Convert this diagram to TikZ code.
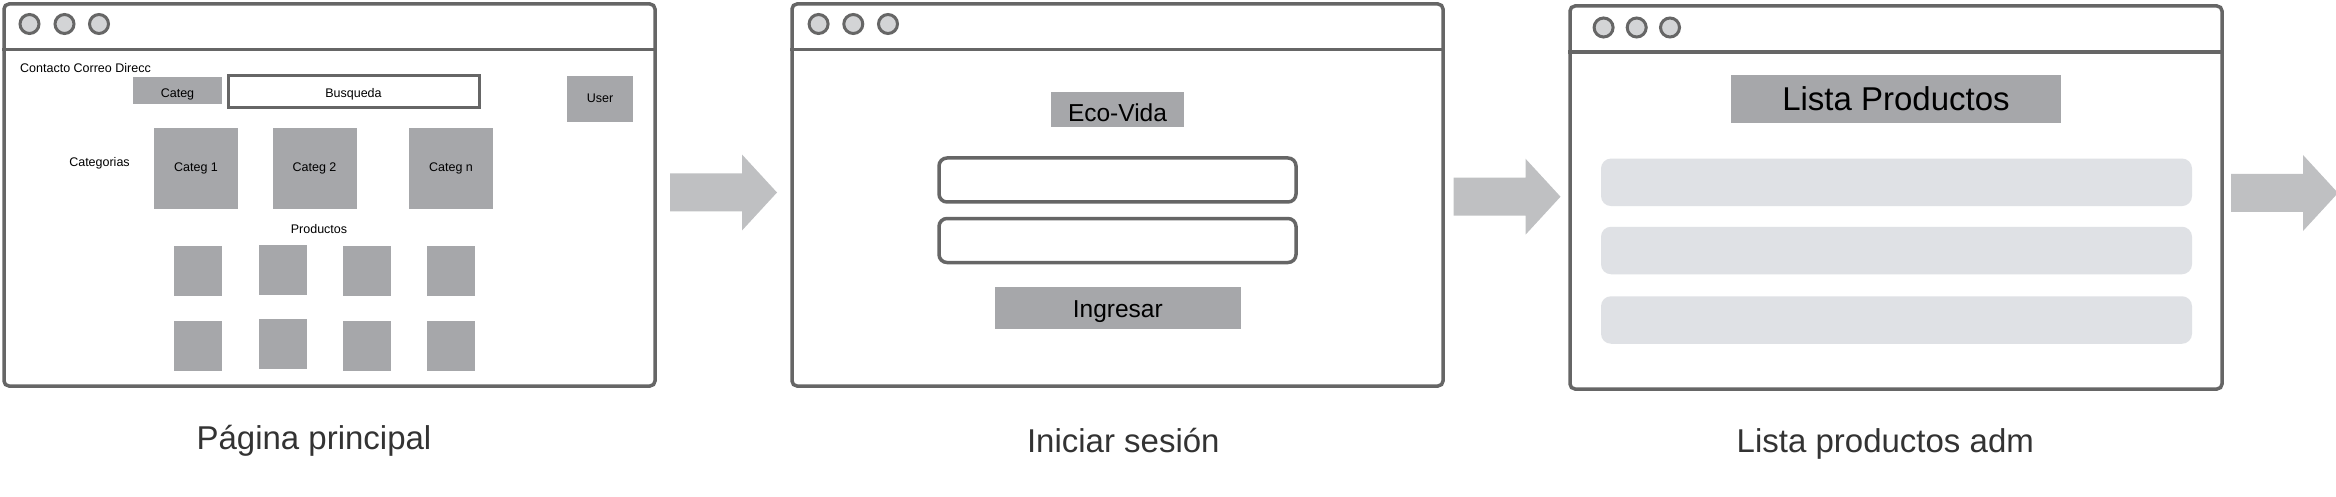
\documentclass[tikz,border=0pt]{standalone}
\usepackage{fontspec}
\setmainfont{Liberation Sans}
\definecolor{wgray}{HTML}{666666}
\definecolor{dotgray}{HTML}{D3D4D6}
\definecolor{boxgray}{HTML}{A6A7AA}
\definecolor{rowgray}{HTML}{DFE1E5}
\definecolor{arrgray}{HTML}{BFC0C2}
\definecolor{capgray}{HTML}{333333}
\newcommand{\fs}[1]{\fontsize{#1}{#1}\selectfont}
\tikzset{
  win/.style={draw=wgray, line width=3.5pt, rounded corners=5pt, inner sep=0pt, fill=white},
  sepline/.style={draw=wgray, line width=3.5pt},
  wdot/.style={circle, draw=wgray, line width=3pt, fill=dotgray, minimum size=19pt, inner sep=0pt},
  gbox/.style={fill=boxgray, inner sep=0pt, font=\fs{12.5}, text depth=2.5pt},
  bigbox/.style={fill=boxgray, inner sep=0pt, font=\fs{24.5}, text depth=5pt},
  small/.style={inner sep=0pt, font=\fs{12.5}},
  inbox/.style={draw=wgray, line width=3.5pt, rounded corners=8pt, inner sep=0pt},
  listrow/.style={fill=rowgray, rounded corners=10pt, inner sep=0pt, minimum width=591pt, minimum height=47.5pt},
  prod/.style={fill=boxgray, inner sep=0pt, minimum width=48pt, minimum height=50pt},
  caption/.style={inner sep=0pt, text=capgray, font=\fs{33}, anchor=base},
  blockarrow/.style={fill=arrgray},
}
\begin{document}
\begin{tikzpicture}[x=1pt,y=-1pt]
\useasboundingbox (0,0) rectangle (2336,497);

% ---------- Window 1 : Pagina principal ----------
\node[win, minimum width=651pt, minimum height=382pt] (w1) at (329.5,195) {};
\draw[sepline] (w1.west |- 0,49.4) -- (w1.east |- 0,49.4);
\node[wdot] (w1d1) at (29.5,24) {};
\node[wdot] (w1d2) at (64.5,24) {};
\node[wdot] (w1d3) at (99,24) {};
\node[small, anchor=base west] (contacto) at (20,72.2) {Contacto Correo Direcc};
\node[gbox, text height=15.3pt, minimum width=89pt, minimum height=27pt] (categ) at (177.5,91) {Categ};
\node[small, text height=13.7pt, text depth=2.5pt, draw=wgray, line width=3pt, minimum width=251pt, minimum height=32pt] (busq) at (353.5,92) {Busqueda};
\node[gbox, text height=10.9pt, minimum width=66pt, minimum height=46pt] (user) at (600,98.6) {User};
\node[small, anchor=base] (categorias) at (99.5,166.7) {Categorias};
\node[gbox, text height=8.5pt, minimum width=84pt, minimum height=81pt] (c1) at (196,168.5) {Categ 1};
\node[gbox, text height=8.5pt, minimum width=84pt, minimum height=81pt] (c2) at (314.5,168.5) {Categ 2};
\node[gbox, text height=8.5pt, minimum width=84pt, minimum height=81pt] (cn) at (451,168.5) {Categ n};
\node[small, anchor=base] (productos) at (319,233.5) {Productos};
\node[prod] (p11) at (198,271) {};
\node[prod] (p12) at (282.5,269.5) {};
\node[prod] (p13) at (367,271) {};
\node[prod] (p14) at (450.5,271) {};
\node[prod] (p21) at (198,345.7) {};
\node[prod] (p22) at (282.5,344.2) {};
\node[prod] (p23) at (367,345.7) {};
\node[prod] (p24) at (450.5,345.7) {};

% ---------- Window 2 : Iniciar sesion ----------
\node[win, minimum width=651pt, minimum height=382pt] (w2) at (1117.5,195) {};
\draw[sepline] (w2.west |- 0,49.4) -- (w2.east |- 0,49.4);
\node[wdot] (w2d1) at (818.6,24) {};
\node[wdot] (w2d2) at (853.3,24) {};
\node[wdot] (w2d3) at (888,24) {};
\node[bigbox, text height=29.4pt, minimum width=133pt, minimum height=35pt] (eco) at (1117.5,109.4) {Eco-Vida};
\node[inbox, minimum width=357pt, minimum height=44pt] (in1) at (1117.5,180) {};
\node[inbox, minimum width=357pt, minimum height=44pt] (in2) at (1117.5,240.5) {};
\node[bigbox, text height=25pt, minimum width=246pt, minimum height=42pt] (ingresar) at (1117.8,307.5) {Ingresar};

% ---------- Window 3 : Lista productos adm ----------
\node[win, minimum width=652pt, minimum height=383pt] (w3) at (1896,197.5) {};
\draw[sepline] (w3.west |- 0,52) -- (w3.east |- 0,52);
\node[wdot] (w3d1) at (1603.6,27.5) {};
\node[wdot] (w3d2) at (1636.7,27.5) {};
\node[wdot] (w3d3) at (1670,27.5) {};
\node[fill=boxgray, inner sep=0pt, font=\fs{33}, text height=31.6pt, text depth=7pt, minimum width=330pt, minimum height=48pt] (lista) at (1896,98.6) {Lista Productos};
\node[listrow] (r1) at (1896.5,182.3) {};
\node[listrow] (r2) at (1896.5,250.5) {};
\node[listrow] (r3) at (1896.5,320) {};

% ---------- Block arrows ----------
\foreach \ax/\ay/\nm in {670/192.5/a1, 1453.5/196.7/a2, 2231/193/a3}{
  \coordinate (\nm) at (\ax,\ay);
  \fill[blockarrow] (\nm) ++(0,-19) -- ++(72,0) -- ++(0,-19) -- ++(35,38) -- ++(-35,38) -- ++(0,-19) -- ++(-72,0) -- cycle;
}

% ---------- Captions ----------
\node[caption] (cap1) at (314,449.5) {Página principal};
\node[caption] (cap2) at (1123.3,452.5) {Iniciar sesión};
\node[caption] (cap3) at (1885.3,452.5) {Lista productos adm};
\end{tikzpicture}
\end{document}
